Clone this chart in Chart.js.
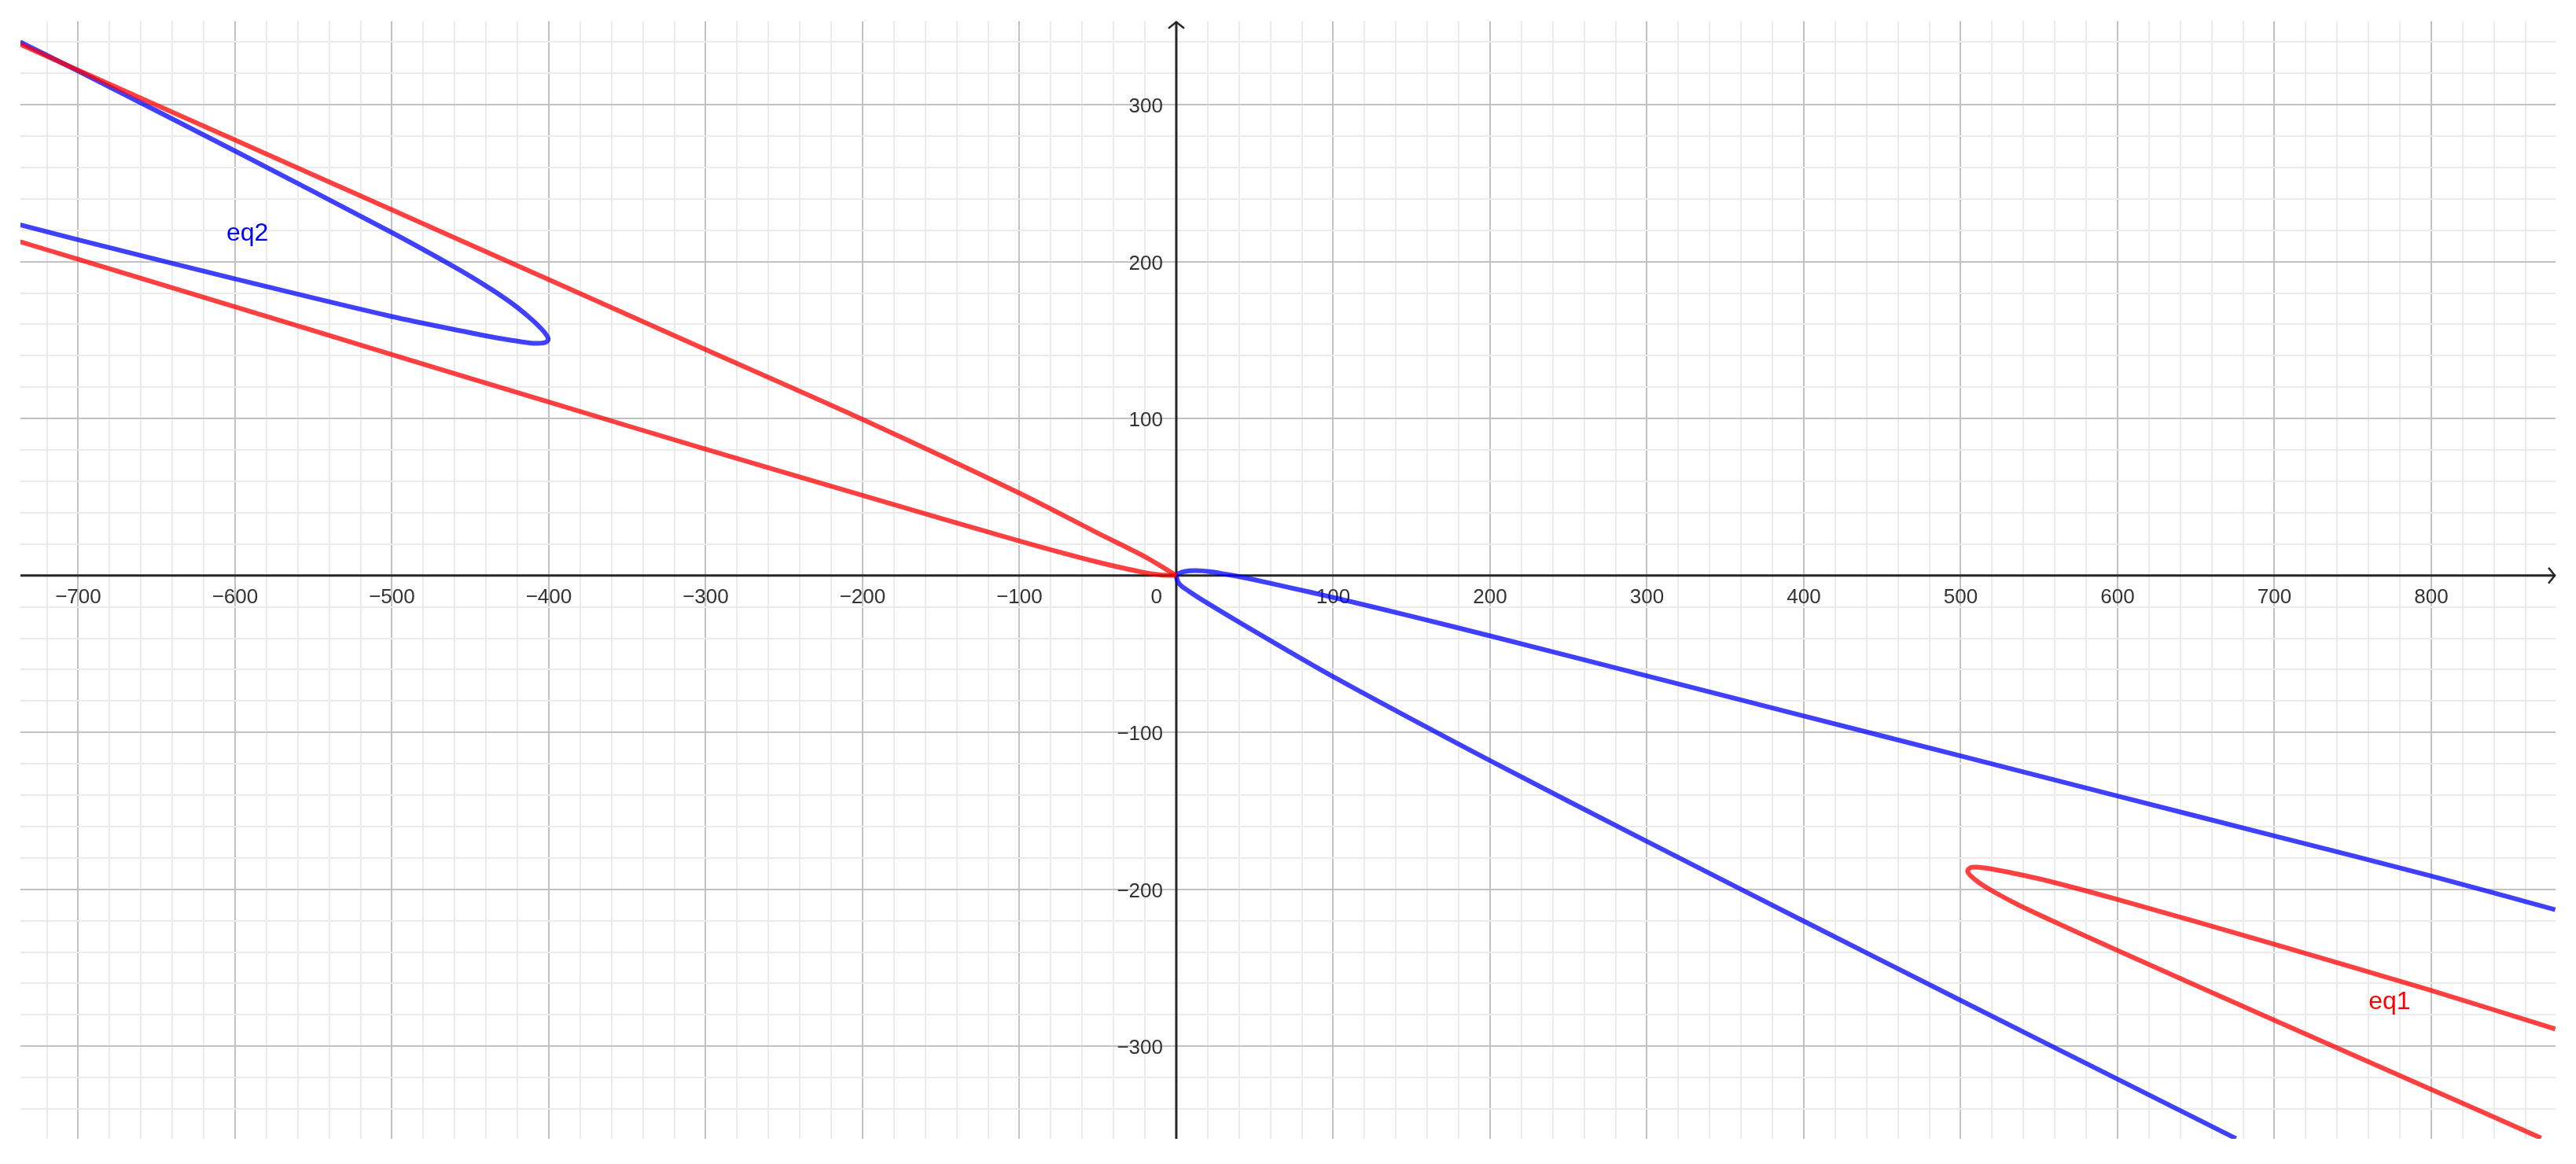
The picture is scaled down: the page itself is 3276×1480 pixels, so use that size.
<!DOCTYPE html>
<html>
<head>
<meta charset="utf-8">
<script src="https://cdn.jsdelivr.net/npm/chart.js@4.4.1/dist/chart.umd.min.js"></script>
<style>
  html, body { margin: 0; padding: 0; background: #fff; }
  canvas { display: block; }
</style>
</head>
<body>
<canvas id="chart" width="3276" height="1480"></canvas>
<script>
// visible window of the graphics view
const xRange = [-736.8, 879.2];
const yRange = [-359.0, 353.2];

// labelled ticks (0 is drawn once, at the origin)
const xTickValues = [-700, -600, -500, -400, -300, -200, -100, 100, 200, 300, 400, 500, 600, 700, 800];
const yTickValues = [-300, -200, -100, 100, 200, 300];

// eq1 (red) - two arms meeting at the origin, plus the loop bottom right
const eq1UpperArm = [
  [-737, 338.5], [-700, 322], [-600, 277.5], [-500, 233], [-400, 188.5], [-300, 144],
  [-200, 99.5], [-100, 52.5], [-50, 27], [-20, 12], [0, 0]
];
const eq1LowerArm = [
  [-737, 212.7], [-700, 201.5], [-600, 171.2], [-500, 140.8], [-400, 110.5], [-300, 80.5],
  [-200, 51], [-100, 22], [-50, 8.5], [-20, 1.8], [-10, 0.4], [0, 0]
];
const eq1Loop = [
  [879, -289], [800, -264.5], [700, -235], [600, -206.5], [555, -194.5], [530, -189], [515, -186.3],
  [507, -186], [504.5, -188], [506, -191], [512, -196], [521, -201.5], [536, -209.5], [555, -218.5],
  [600, -239], [700, -283.5], [800, -327.5], [870, -358.5]
];

// eq2 (blue) - loop top left, and the branch through the origin
const eq2Loop = [
  [-737, 340], [-700, 321.5], [-600, 270.5], [-500, 218.5], [-460, 196.5], [-440, 184.5],
  [-425, 174.5], [-413, 165], [-405, 157.5], [-401, 152.5], [-400.5, 150], [-403, 148.3],
  [-410, 148], [-420, 149.3], [-432, 151.2], [-449, 154.5], [-500, 165], [-600, 189],
  [-700, 213.9], [-737, 223.5]
];
const eq2Branch = [
  [879, -213], [800, -191.5], [700, -166], [600, -140.5], [500, -115], [400, -89.5],
  [300, -64], [200, -38.5], [150, -26], [100, -14], [70, -7.2], [50, -2.8], [35, 0.2],
  [22, 2.4], [12, 3.1], [5, 2.5], [1.5, 1.2], [0, 0], [2, -5.5], [8, -10], [18, -16.5],
  [43, -31.5], [100, -64.5], [200, -118], [300, -169.5], [400, -220.3], [500, -270.8],
  [600, -321], [675.5, -358.8]
];

const red = 'rgba(255, 0, 0, 0.75)';
const blue = 'rgba(0, 0, 255, 0.75)';
const majorGrid = '#c2c2c2';
const minorGrid = '#ebebeb';
const axisColor = '#262626';
const tickColor = '#333333';
const labelFont = '"Liberation Sans", Arial, sans-serif';

const toPoints = arr => arr.map(([x, y]) => ({ x, y }));

function curve(points, color) {
  return {
    data: toPoints(points),
    showLine: true,
    borderColor: color,
    borderWidth: 6,
    pointRadius: 0,
    pointHoverRadius: 0,
    tension: 0.3,
    fill: false,
    clip: 0
  };
}

const fmt = v => (v < 0 ? '\u2212' + Math.abs(v) : String(v));

const gridFor = {
  color: c => (c.tick && c.tick.value % 100 === 0 ? majorGrid : minorGrid),
  lineWidth: 2,
  drawTicks: false
};

// axes with arrows, tick numbers, and the eq1 / eq2 captions
const geoAxes = {
  id: 'geoAxes',
  beforeDatasetsDraw(chart) {
    const { ctx, chartArea: a, scales: { x, y } } = chart;
    const ox = x.getPixelForValue(0);
    const oy = y.getPixelForValue(0);
    ctx.save();
    ctx.strokeStyle = axisColor;
    ctx.lineWidth = 3;
    ctx.beginPath();
    ctx.moveTo(a.left, oy); ctx.lineTo(a.right, oy);
    ctx.moveTo(ox, a.bottom); ctx.lineTo(ox, a.top);
    ctx.stroke();

    ctx.lineWidth = 2.5;
    ctx.lineJoin = 'miter';
    ctx.beginPath();
    ctx.moveTo(a.right - 9, oy - 10); ctx.lineTo(a.right - 1, oy); ctx.lineTo(a.right - 9, oy + 10);
    ctx.moveTo(ox - 10, a.top + 9); ctx.lineTo(ox, a.top + 1); ctx.lineTo(ox + 10, a.top + 9);
    ctx.stroke();

    ctx.fillStyle = tickColor;
    ctx.font = '26px ' + labelFont;
    ctx.textBaseline = 'alphabetic';
    ctx.textAlign = 'center';
    xTickValues.forEach(v => ctx.fillText(fmt(v), x.getPixelForValue(v), oy + 35));
    ctx.textAlign = 'right';
    yTickValues.forEach(v => ctx.fillText(fmt(v), ox - 17, y.getPixelForValue(v) + 10));
    ctx.fillText('0', ox - 18, oy + 35);
    ctx.restore();
  },
  afterDatasetsDraw(chart) {
    const { ctx, scales: { x, y } } = chart;
    ctx.save();
    ctx.font = '32px ' + labelFont;
    ctx.textAlign = 'left';
    ctx.textBaseline = 'alphabetic';
    ctx.fillStyle = '#0000ff';
    ctx.fillText('eq2', x.getPixelForValue(-605.5), y.getPixelForValue(213.4));
    ctx.fillStyle = '#ff0000';
    ctx.fillText('eq1', x.getPixelForValue(760), y.getPixelForValue(-276.3));
    ctx.restore();
  }
};

new Chart(document.getElementById('chart'), {
  type: 'scatter',
  data: {
    datasets: [
      curve(eq1UpperArm, red),
      curve(eq1LowerArm, red),
      curve(eq1Loop, red),
      curve(eq2Loop, blue),
      curve(eq2Branch, blue)
    ]
  },
  options: {
    responsive: false,
    animation: false,
    devicePixelRatio: 1,
    layout: { padding: { left: 26, right: 26, top: 27, bottom: 32 } },
    plugins: { legend: { display: false }, tooltip: { enabled: false } },
    events: [],
    scales: {
      x: {
        type: 'linear',
        min: xRange[0],
        max: xRange[1],
        grid: gridFor,
        border: { display: false },
        ticks: { display: false, stepSize: 20, includeBounds: false, autoSkip: false },
        afterFit: s => { s.height = 0; }
      },
      y: {
        type: 'linear',
        min: yRange[0],
        max: yRange[1],
        grid: gridFor,
        border: { display: false },
        ticks: { display: false, stepSize: 20, includeBounds: false, autoSkip: false },
        afterFit: s => { s.width = 0; }
      }
    }
  },
  plugins: [geoAxes]
});
</script>
</body>
</html>
